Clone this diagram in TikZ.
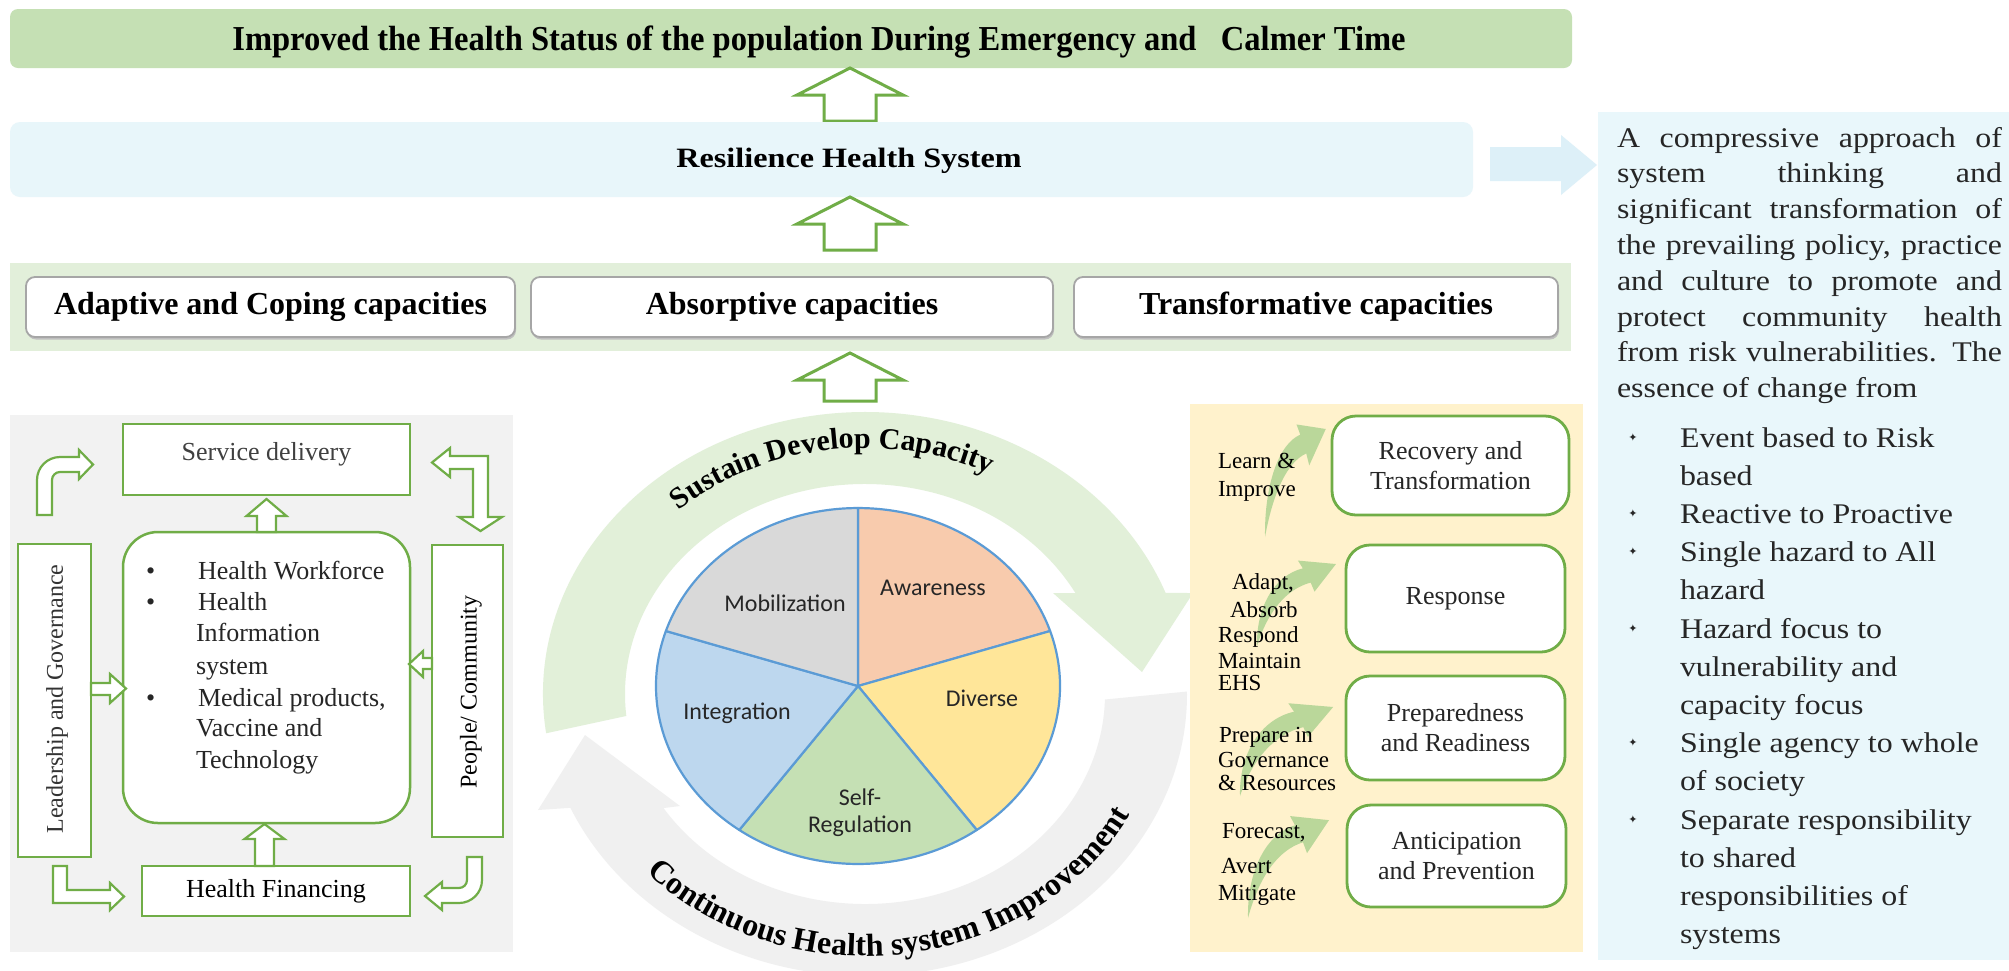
\documentclass[tikz,border=0pt]{standalone}
\usepackage{fontspec}
\setmainfont{Liberation Serif}
\newfontfamily\pief{Carlito}
\newfontfamily\widef[FakeStretch=1.12]{Liberation Serif}
\newfontfamily\condf[FakeStretch=0.93]{Liberation Serif}
\newfontfamily\resf[FakeStretch=1.15]{Liberation Serif}
\newfontfamily\symf{DejaVu Sans}
\usetikzlibrary{decorations.text,calc}
\definecolor{bannergreen}{HTML}{C5E0B4}
\definecolor{resblue}{HTML}{E8F6FA}
\definecolor{capband}{HTML}{E2EFDA}
\definecolor{capborder}{HTML}{A6A6A6}
\definecolor{leftpanel}{HTML}{F2F2F2}
\definecolor{ggreen}{HTML}{70AD47}
\definecolor{ringgreen}{HTML}{E2F0D9}
\definecolor{ringgray}{HTML}{F0F0F0}
\definecolor{yellowp}{HTML}{FFF2CC}
\definecolor{bluep}{HTML}{E9F7FB}
\definecolor{arrowblue}{HTML}{DDF0F8}
\definecolor{pieaw}{HTML}{F8CBAD}
\definecolor{piedv}{HTML}{FFE699}
\definecolor{piesr}{HTML}{C5E0B4}
\definecolor{pieig}{HTML}{BDD7EE}
\definecolor{piemb}{HTML}{D9D9D9}
\definecolor{pieline}{HTML}{5B9BD5}
\definecolor{carrowc}{HTML}{A9D18E}
\definecolor{txtdark}{HTML}{262626}
\newcommand\pnlfont{\widef\fontsize{28.5}{34}\selectfont}
% up block arrow: style, cx, tip y, head base y, bottom y, head half width, shaft half width
\newcommand\myuparr[7]{\draw[#1] (#2,-#3) -- ({#2+#6},-#4) -- ({#2+#7},-#4) -- ({#2+#7},-#5) -- ({#2-#7},-#5) -- ({#2-#7},-#4) -- ({#2-#6},-#4) -- cycle;}
% curved light green arrow: bottom x, bottom y, xscale, yscale
\newcommand\mycurvarr[4]{\fill[carrowc, fill opacity=0.8, shift={(#1,-#2)}, xscale=#3, yscale=#4] (0,0) .. controls (-1,45) and (18,82) .. (47,90) -- (42,99) -- (81,95) -- (59,63) -- (55,73.5) .. controls (30,66) and (11,40) .. (0,0) -- cycle;}
\begin{document}
\begin{tikzpicture}[x=1pt,y=1pt,
  every node/.style={inner sep=0pt, outer sep=0pt},
  bigup/.style={draw=ggreen, line width=3pt, fill=white, line join=miter},
  blockarrow/.style={draw=ggreen, line width=2.2pt, fill=white, line join=miter},
  capbox/.style={draw=capborder, line width=1.8pt, fill=white, rounded corners=9pt, minimum height=60pt, font=\bfseries\fontsize{32}{36}\selectfont},
  gbox/.style={draw=ggreen, line width=2.5pt, fill=white},
  ybox/.style={draw=ggreen, line width=2.8pt, fill=white, rounded corners=24pt, align=center, font=\fontsize{26}{30}\selectfont, text=txtdark},
  lbl/.style={anchor=west, font=\fontsize{23}{25}\selectfont, text=black},
  listtxt/.style={anchor=base west, font=\fontsize{26}{28}\selectfont, text=txtdark},
  pnl/.style={anchor=base west, font=\pnlfont, text=txtdark},
  pielbl/.style={font=\pief\fontsize{24}{27}\selectfont, text=txtdark, align=center}
]
\useasboundingbox (0,0) rectangle (2009,-970);
\fill[white] (0,0) rectangle (2009,-970);

% ---------- top banner ----------
\fill[bannergreen, rounded corners=8pt] (10,-9) rectangle (1572,-68);
\node[anchor=base, font=\condf\bfseries\fontsize{35}{37}\selectfont] (goal) at (819,-50) {Improved the Health Status of the population During Emergency and \ \ Calmer Time};

\myuparr{bigup}{850}{68}{95}{121}{53}{26}

% ---------- resilience ----------
\fill[resblue, rounded corners=10pt] (10,-122) rectangle (1473,-197);
\node[font=\resf\bfseries\fontsize{28}{32}\selectfont] (res) at (849,-161) {Resilience Health System};
\fill[arrowblue] (1490,-147) -- (1561,-147) -- (1561,-135) -- (1597,-165) -- (1561,-195) -- (1561,-181) -- (1490,-181) -- cycle;

\myuparr{bigup}{850}{197}{224}{250}{53}{26}

% ---------- capacities ----------
\fill[capband] (10,-263) rectangle (1571,-351);
\foreach \cx/\w in {270.5/489, 792/522, 1316/484}{
  \fill[black!25, rounded corners=9pt] ({\cx-\w/2+1},-279.5) rectangle ({\cx+\w/2+1},-339.5);
}
\node[capbox, minimum width=489pt] (cap1) at (270.5,-307) {Adaptive and Coping capacities};
\node[capbox, minimum width=522pt] (cap2) at (792,-307) {Absorptive capacities};
\node[capbox, minimum width=484pt] (cap3) at (1316,-307) {Transformative capacities};

\myuparr{bigup}{850}{353}{380}{401}{53}{26}

% ---------- left panel ----------
\fill[leftpanel] (10,-415) rectangle (513,-952);
\node[gbox, minimum width=287pt, minimum height=71pt] (svc) at (266.5,-459.5) {};
\node[font=\fontsize{26}{28}\selectfont, text=black!75] (svct) at (266.5,-454) {Service delivery};
\node[gbox, rounded corners=35pt, minimum width=287pt, minimum height=291pt] (inner) at (266.5,-677.5) {};
\node[gbox, minimum width=73pt, minimum height=313pt] (lead) at (54.5,-700.5) {};
\node[rotate=90, font=\fontsize{24}{26}\selectfont, text=black!80] (leadt) at (57,-699) {Leadership and Governance};
\node[gbox, minimum width=71pt, minimum height=292pt] (ppl) at (467.5,-691) {};
\node[rotate=90, font=\fontsize{24}{26}\selectfont] (pplt) at (471,-692) {People/ Community};
\node[gbox, minimum width=268pt, minimum height=50pt, font=\fontsize{26}{28}\selectfont] (hf) at (276,-891) {Health Financing};

\node[listtxt] (b1) at (146,-579) {•};
\node[listtxt] (i1) at (198,-579) {Health Workforce};
\node[listtxt] (b2) at (146,-610) {•};
\node[listtxt] (i2) at (198,-610) {Health};
\node[listtxt] (i3) at (196,-641) {Information};
\node[listtxt] (i4) at (196,-674) {system};
\node[listtxt] (b3) at (146,-706) {•};
\node[listtxt] (i5) at (198,-706) {Medical products,};
\node[listtxt] (i6) at (196,-736) {Vaccine and};
\node[listtxt] (i7) at (196,-768) {Technology};

% small block arrows
\myuparr{blockarrow}{266.5}{499}{516}{532}{20}{9.5}
\myuparr{blockarrow}{264.5}{824}{839}{866}{20}{9.5}
\draw[blockarrow] (91,-683) -- (110,-683) -- (110,-674) -- (126,-688.5) -- (110,-703) -- (110,-695) -- (91,-695) -- cycle;
\draw[blockarrow] (432,-658) -- (423,-658) -- (423,-651) -- (409,-664) -- (423,-677) -- (423,-669) -- (432,-669) -- cycle;
\draw[blockarrow] (37,-515) -- (37,-480) arc[start angle=180,end angle=90,radius=23] -- (79,-457) -- (79,-450) -- (93,-464.5) -- (79,-479) -- (79,-472) -- (60,-472) arc[start angle=90,end angle=180,radius=8] -- (52,-515) -- cycle;
\draw[blockarrow] (53,-866) -- (53,-903) -- (110,-903) -- (110,-910) -- (124,-896.5) -- (110,-883) -- (110,-890) -- (67,-890) -- (67,-866) -- cycle;
\draw[blockarrow] (482,-857) -- (482,-880) arc[start angle=0,end angle=-90,radius=23] -- (442,-903) -- (442,-910) -- (425,-896) -- (442,-882) -- (442,-888) -- (459,-888) arc[start angle=-90,end angle=0,radius=8] -- (467,-857) -- cycle;
\draw[blockarrow] (432,-462.5) -- (450,-448) -- (450,-456) -- (488,-456) -- (488,-517) -- (502,-517) -- (480.5,-531) -- (459,-517) -- (473,-517) -- (473,-469) -- (450,-469) -- (450,-477) -- cycle;

% ---------- central rings ----------
\begin{scope}[shift={(865,-694)}]
  \fill[ringgray] (0.5:322 and 282) arc[start angle=0.5,end angle=-156.2,x radius=322,y radius=282]
     -- (-327,-116) -- (-280,-41) -- (-185,-112)
     -- (-147.1:240 and 210) arc[start angle=-147.1,end angle=-1.5,x radius=240,y radius=210] -- cycle;
  \fill[ringgreen] (188:322 and 282) arc[start angle=188,end angle=21,x radius=322,y radius=282]
     -- (328,101) -- (277,22) -- (188,101)
     -- (28.7:240 and 210) arc[start angle=28.7,end angle=186,x radius=240,y radius=210] -- cycle;
  \path[decorate, decoration={text along path, text align=center,
      text={|\bfseries\fontsize{30}{30}\selectfont|Sustain Develop Capacity}}]
      (153:280 and 246) arc[start angle=153,end angle=43,x radius=280,y radius=246];
  \path[decorate, decoration={text along path, text align=center,
      text={|\bfseries\fontsize{32}{32}\selectfont|Continuous Health system Improvement}}]
      (202:298 and 262) arc[start angle=202,end angle=354,x radius=298,y radius=262];
\end{scope}

% ---------- pie ----------
\begin{scope}[shift={(858,-686)}, yscale=0.881]
  \filldraw[draw=pieline, line width=2.2pt, fill=pieaw, line join=round] (0,0) -- (90:202) arc[start angle=90,end angle=18,radius=202] -- cycle;
  \filldraw[draw=pieline, line width=2.2pt, fill=piedv, line join=round] (0,0) -- (18:202) arc[start angle=18,end angle=-54,radius=202] -- cycle;
  \filldraw[draw=pieline, line width=2.2pt, fill=piesr, line join=round] (0,0) -- (-54:202) arc[start angle=-54,end angle=-126,radius=202] -- cycle;
  \filldraw[draw=pieline, line width=2.2pt, fill=pieig, line join=round] (0,0) -- (-126:202) arc[start angle=-126,end angle=-198,radius=202] -- cycle;
  \filldraw[draw=pieline, line width=2.2pt, fill=piemb, line join=round] (0,0) -- (162:202) arc[start angle=162,end angle=90,radius=202] -- cycle;
\end{scope}
\node[pielbl] (aw) at (933,-588) {Awareness};
\node[pielbl] (mb) at (785,-603) {Mobilization};
\node[pielbl] (dv) at (982,-698) {Diverse};
\node[pielbl] (ig) at (737,-713) {Integration};
\node[pielbl] (sr) at (860,-813) {Self-\\Regulation};

% ---------- yellow panel ----------
\fill[yellowp] (1190,-404) rectangle (1583,-952);
\mycurvarr{1265}{537}{0.75}{1.137}
\mycurvarr{1257}{646}{0.975}{0.863}
\mycurvarr{1240}{796}{1.15}{0.937}
\mycurvarr{1248}{918}{1.0}{1.03}
\node[ybox, minimum width=237pt, minimum height=99pt] (rec) at (1450.5,-465.5) {Recovery and\\Transformation};
\node[ybox, minimum width=219pt, minimum height=107pt] (resp) at (1455.5,-598.5) {Response};
\node[ybox, minimum width=219pt, minimum height=104pt] (prep) at (1455.5,-728) {Preparedness\\and Readiness};
\node[ybox, minimum width=219pt, minimum height=102pt] (ant) at (1456.5,-856) {Anticipation\\and Prevention};
\node[lbl] (l1) at (1218,-461) {Learn \&};
\node[lbl] (l2) at (1218,-491) {Improve};
\node[lbl] (l3) at (1232,-584) {Adapt,};
\node[lbl] (l4) at (1230,-610) {Absorb};
\node[lbl] (l5) at (1218,-637) {Respond};
\node[lbl] (l6) at (1218,-661) {Maintain};
\node[lbl] (l7) at (1218,-683) {EHS};
\node[lbl] (l8) at (1219,-737) {Prepare in};
\node[lbl] (l9) at (1218,-760) {Governance};
\node[lbl] (l10) at (1218,-783) {\& Resources};
\node[lbl] (l11) at (1222,-833) {Forecast,};
\node[lbl] (l12) at (1221,-866) {Avert};
\node[lbl] (l13) at (1218,-895) {Mitigate};

% ---------- blue panel ----------
\fill[bluep] (1598,-112) rectangle (2009,-960);
\node[pnl] (p1) at (1617,-147) {\makebox[385pt][s]{A compressive approach of}};
\node[pnl] (p2) at (1617,-182.8) {\makebox[385pt][s]{system thinking and}};
\node[pnl] (p3) at (1617,-218.6) {\makebox[385pt][s]{significant transformation of}};
\node[pnl] (p4) at (1617,-254.4) {\makebox[385pt][s]{the prevailing policy, practice}};
\node[pnl] (p5) at (1617,-290.2) {\makebox[385pt][s]{and culture to promote and}};
\node[pnl] (p6) at (1617,-326) {\makebox[385pt][s]{protect community health}};
\node[pnl] (p7) at (1617,-361.8) {\makebox[385pt][s]{from risk vulnerabilities. The}};
\node[pnl] (p8) at (1617,-397.6) {essence of change from};
\foreach \k/\t in {0/Event based to Risk, 1/based, 2/Reactive to Proactive, 3/Single hazard to All, 4/hazard, 5/Hazard focus to, 6/vulnerability and, 7/capacity focus, 8/Single agency to whole, 9/of society, 10/Separate responsibility, 11/to shared, 12/responsibilities of, 13/systems}{
  \node[pnl] (q\k) at (1680,{-447-38.2*\k}) {\t};
}
\foreach \k in {0,2,3,5,8,10}{
  \node[font=\symf\fontsize{11}{11}\selectfont, text=txtdark] (qb\k) at (1633,{-437-38.2*\k}) {✦};
}
\end{tikzpicture}
\end{document}
